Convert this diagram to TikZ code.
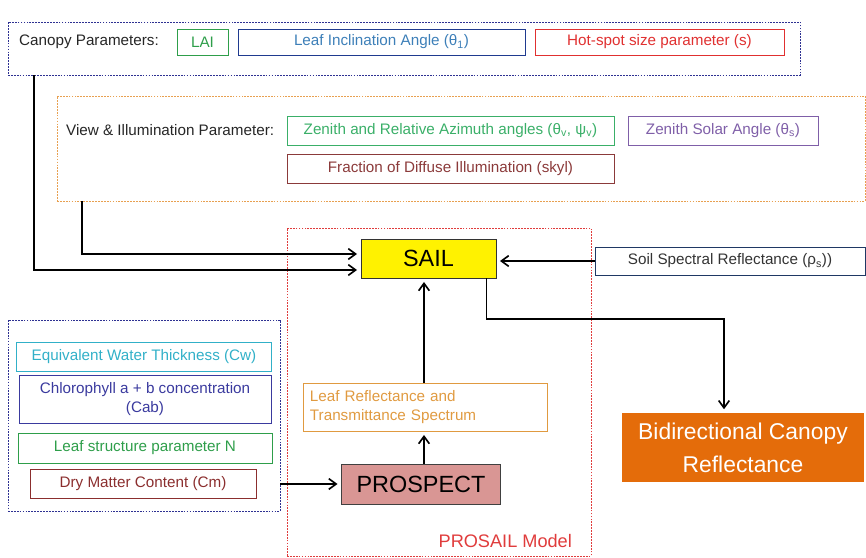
\documentclass[tikz,border=0pt]{standalone}
\usepackage{fontspec}
\setmainfont{Liberation Sans}
\usetikzlibrary{arrows.meta}

\definecolor{grpblue}{HTML}{2E3192}
\definecolor{grporange}{HTML}{E8A050}
\definecolor{grpred}{HTML}{E03C3C}
\definecolor{laigreen}{HTML}{2E9E4A}
\definecolor{lianavy}{HTML}{1F3A8F}
\definecolor{liatext}{HTML}{3D7FB8}
\definecolor{hotred}{HTML}{E03030}
\definecolor{zragreen}{HTML}{3AAF68}
\definecolor{zsapurple}{HTML}{7F5FA8}
\definecolor{skylbrown}{HTML}{8B3A3A}
\definecolor{ewtcyan}{HTML}{31B0C8}
\definecolor{chlindigo}{HTML}{3A3A9E}
\definecolor{dmcbrown}{HTML}{8B2E2E}
\definecolor{leaforange}{HTML}{E09A40}
\definecolor{soilnavy}{HTML}{1F3864}
\definecolor{prospectfill}{HTML}{D99694}
\definecolor{bcrfill}{HTML}{E46C0A}

\tikzset{
  grp/.style={draw=#1, line width=0.6pt, dash pattern=on 1.5pt off 1pt},
  param/.style={draw=#1, text=#1, line width=0.8pt, inner sep=1pt, align=center},
  conn/.style={line width=1.4pt, -{Straight Barb[length=2.2mm,width=3.2mm]}, shorten >=3pt},
  big/.style={font=\fontsize{20}{24}\selectfont},
}

\begin{document}
\begin{tikzpicture}[x=0.03cm, y=-0.03cm, font=\fontsize{13}{15.5}\selectfont]
\useasboundingbox (0,0) rectangle (866,557);

% canopy parameters
\node[grp=grpblue, minimum width=23.76cm, minimum height=1.59cm] (canopy) at (404,48.5) {};
\node[anchor=west, text=black!85] (canopytxt) at (15,42) {Canopy Parameters:};
\node[param=laigreen, minimum width=1.53cm, minimum height=0.78cm] (lai) at (202.5,42) {LAI};
\node[param=lianavy, text=liatext, minimum width=8.61cm, minimum height=0.78cm] (lia) at (381.5,42) {Leaf Inclination Angle (θ\textsubscript{1})};
\node[param=hotred, minimum width=7.47cm, minimum height=0.78cm] (hotspot) at (659.5,42) {Hot-spot size parameter (s)};

% view & illumination
\node[grp=grporange, minimum width=24.24cm, minimum height=3.15cm] (view) at (461,148.5) {};
\node[anchor=west, text=black!85] (viewtxt) at (62,130.5) {View \& Illumination Parameter:};
\node[param=zragreen, minimum width=9.81cm, minimum height=0.87cm] (zra) at (450.5,130.5) {Zenith and Relative Azimuth angles (θ\textsubscript{v}, ψ\textsubscript{v})};
\node[param=zsapurple, minimum width=5.7cm, minimum height=0.87cm] (zsa) at (723,130.5) {Zenith Solar Angle (θ\textsubscript{s})};
\node[param=skylbrown, minimum width=9.81cm, minimum height=0.87cm] (skyl) at (450.5,168.5) {Fraction of Diffuse Illumination (skyl)};

% PROSAIL model
\node[grp=grpred, minimum width=9.12cm, minimum height=9.84cm] (prosail) at (439,392) {};
\node[anchor=east, text=grpred, font=\fontsize{15.5}{18}\selectfont] (prosailtxt) at (576,541) {PROSAIL Model};
\node[draw=black!80, fill=yellow, line width=0.8pt, minimum width=4.05cm, minimum height=1.17cm, big] (sail) at (428.5,258.5) {SAIL};
\node[param=soilnavy, text=black!80, minimum width=8.1cm, minimum height=0.84cm] (soil) at (730,261) {Soil Spectral Reflectance (ρ\textsubscript{s}))};
\node[param=leaforange, align=left, minimum width=7.32cm, minimum height=1.44cm, text width=6.9cm] (leaf) at (425,407) {Leaf Reflectance and\\Transmittance Spectrum};
\node[draw=black!75, fill=prospectfill, line width=0.8pt, minimum width=4.77cm, minimum height=1.2cm, big] (prospect) at (421,484) {PROSPECT};

% leaf parameters
\node[grp=grpblue, minimum width=8.16cm, minimum height=5.73cm] (leftgrp) at (144,415.5) {};
\node[param=ewtcyan, minimum width=7.64cm, minimum height=0.87cm] (ewt) at (144,356.5) {Equivalent Water Thickness (Cw)};
\node[param=chlindigo, minimum width=7.56cm, minimum height=1.44cm] (chl) at (145,399) {Chlorophyll a + b concentration\\(Cab)};
\node[param=laigreen, minimum width=7.62cm, minimum height=0.9cm] (lsp) at (145,448) {Leaf structure parameter N};
\node[param=dmcbrown, minimum width=6.78cm, minimum height=0.87cm] (dmc) at (143,483.5) {Dry Matter Content (Cm)};

% output
\node[fill=bcrfill, text=white, minimum width=7.27cm, minimum height=2.07cm, align=center, font=\fontsize{19.5}{28}\selectfont] (bcr) at (743,447.5) {Bidirectional Canopy\\Reflectance};

% connectors
\coordinate (canopyturn) at (34,270);
\coordinate (viewturn) at (82,254);
\coordinate (bcrturn) at (724,319);
\draw[conn] (canopyturn |- canopy.south) -- (canopyturn) -- (canopyturn -| sail.west);
\draw[conn] (viewturn |- view.south) -- (viewturn) -- (viewturn -| sail.west);
\draw[conn] (soil.west) -- (soil.west -| sail.east);
\draw[conn] (leaf.north -| 424,0) -- (sail.south -| 424,0);
\draw[conn] (prospect.north -| 424,0) -- (leaf.south -| 424,0);
\draw[conn] (leftgrp.east |- prospect.west) -- (prospect.west);
\draw[conn] ([xshift=-0.3cm]sail.south east) |- (bcrturn) -- (bcrturn |- bcr.north);
\end{tikzpicture}
\end{document}
